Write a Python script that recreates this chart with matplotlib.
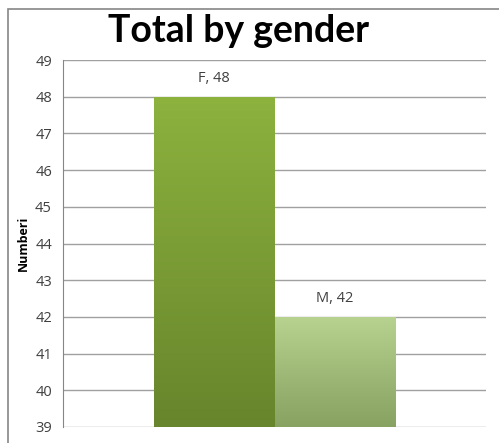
import matplotlib
matplotlib.use("Agg")
import matplotlib.pyplot as plt
import numpy as np
from matplotlib.patches import Rectangle
from matplotlib.colors import LinearSegmentedColormap

categories = ["F", "M"]
values = [48, 42]
yticks = list(range(39, 50))

W, H = 499, 443
fig = plt.figure(figsize=(W/100, H/100), dpi=100)
fig.patch.set_facecolor("white")

# chart border
fig.patches.append(Rectangle((8/W, -0.1), 1.2, 1 - 9/H + 0.1, transform=fig.transFigure,
                             fill=False, edgecolor="#868686", linewidth=1.2))

left, right = 63/W, 486/W
bottom, top = 1 - 427/H, 1 - 60/H
ax = fig.add_axes([left, bottom, right-left, top-bottom])
ax.set_ylim(39, 49)
ax.set_xlim(-1.75, 1.75)
ax.set_yticks(yticks)
ax.set_xticks([])
for s in ["top", "right", "bottom"]:
    ax.spines[s].set_visible(False)
ax.spines["left"].set_color("#868686")
ax.yaxis.grid(True, color="#a0a0a0", linewidth=1)
ax.set_axisbelow(True)
ax.tick_params(axis="y", length=0, labelsize=10.5, labelcolor="#404040", pad=8)
for lbl in ax.get_yticklabels():
    lbl.set_family("Open Sans")

grads = [("#8db23e", "#67852c"), ("#b8d38f", "#87a261")]
xs = [-0.5, 0.5]
bars = ax.bar(xs, [v - 39 for v in values], bottom=39, width=1.0, color="none", zorder=2)
for b, (ctop, cbot), cat, v in zip(bars, grads, categories, values):
    cmap = LinearSegmentedColormap.from_list("g", [cbot, ctop])
    grad = np.linspace(0, 1, 256).reshape(-1, 1)
    x0, y0, w, h = b.get_x(), b.get_y(), b.get_width(), b.get_height()
    im = ax.imshow(grad, cmap=cmap, aspect="auto", origin="lower",
                   extent=(x0, x0 + w, y0, y0 + h), zorder=2)
    im.set_clip_path(b)
    ax.annotate(f"{cat}, {v}", (x0 + w/2, y0 + h), xytext=(0, 8), textcoords="offset points",
                ha="center", va="bottom", fontsize=10.5, color="#404040", family="Open Sans")
ax.set_xlim(-1.75, 1.75)
ax.set_ylim(39, 49)

ax.set_ylabel("Numberi", fontsize=9, fontweight="bold", family="Open Sans", labelpad=4)

fig.text(0.478, 1 - 31/H, "Total by gender", ha="center", va="center",
         fontsize=27, fontweight="bold", family="Lato")

fig.savefig("out.png", dpi=100)
